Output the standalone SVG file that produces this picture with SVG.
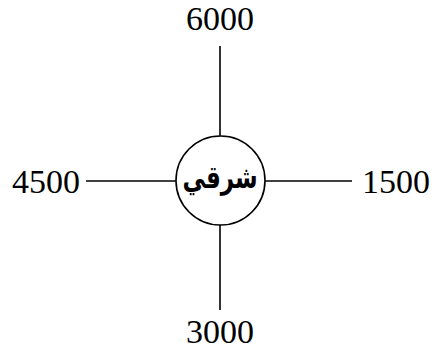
<svg xmlns="http://www.w3.org/2000/svg" width="437" height="353" viewBox="0 0 437 353">
<style>
.c{stroke:#000;stroke-width:1.6;fill:none}
.n{font-family:"Liberation Serif","Times New Roman",serif;font-size:34px;fill:#000}
.a{font-family:"DejaVu Sans",sans-serif;font-size:23px;font-weight:bold;fill:#000}
</style>
<rect width="437" height="353" fill="#fff"/>
<g id="connectors">
<line class="c" x1="220" y1="46" x2="220" y2="136"/>
<line class="c" x1="220" y1="225" x2="220" y2="310"/>
<line class="c" x1="86" y1="181" x2="176" y2="181"/>
<line class="c" x1="265" y1="181" x2="352" y2="181"/>
</g>
<g id="center"><circle class="c" cx="220.5" cy="180.5" r="44.5"/><text class="a" transform="translate(220 181) scale(1 1.35)" x="0" y="5" text-anchor="middle">شرقي</text></g>
<g id="n6000"><text class="n" x="220" y="30" text-anchor="middle">6000</text></g>
<g id="n4500"><text class="n" x="46" y="193" text-anchor="middle">4500</text></g>
<g id="n1500"><text class="n" x="396" y="193" text-anchor="middle">1500</text></g>
<g id="n3000"><text class="n" x="220" y="343" text-anchor="middle">3000</text></g>
</svg>
